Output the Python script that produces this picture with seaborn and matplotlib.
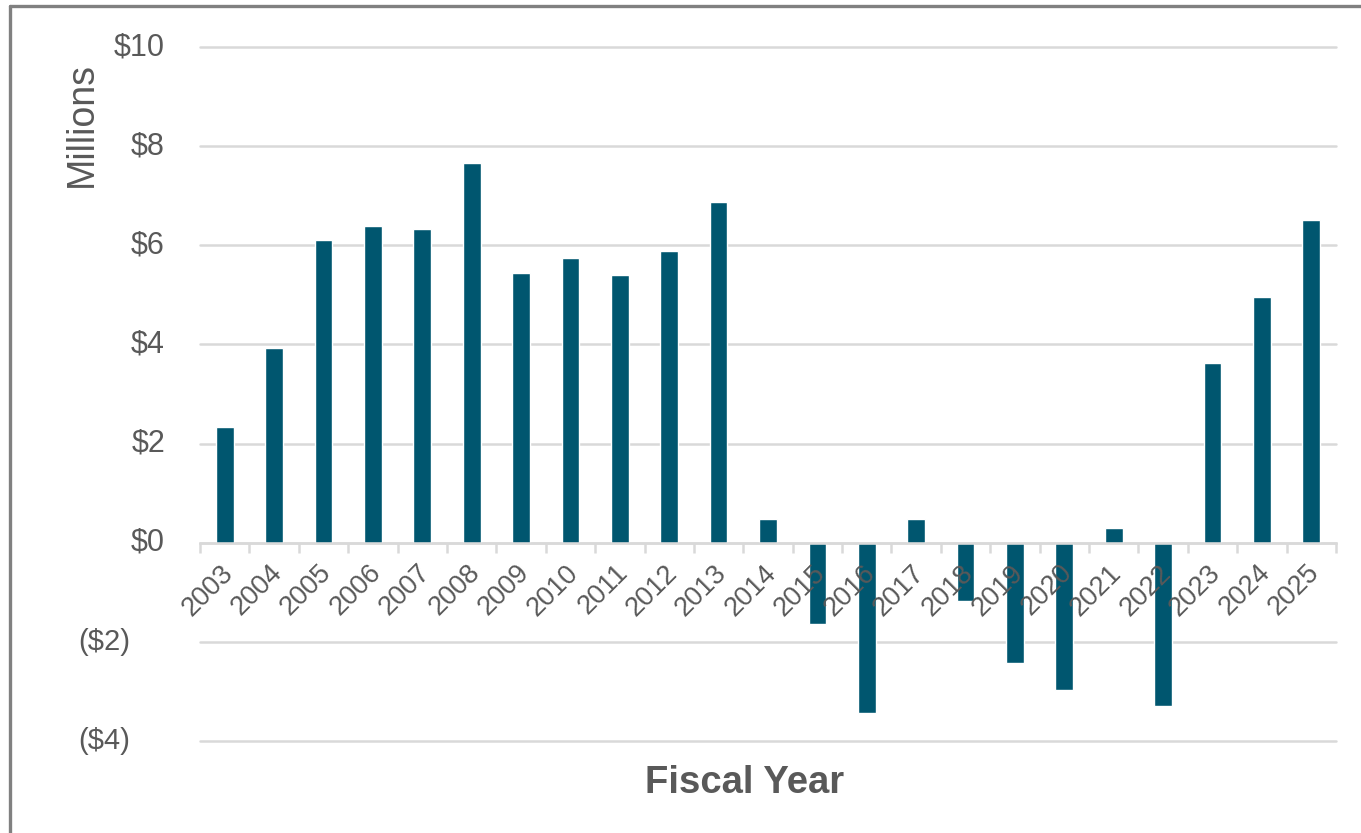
import numpy as np
import pandas as pd
import matplotlib
matplotlib.use("Agg")
import matplotlib.pyplot as plt
from matplotlib.lines import Line2D
from matplotlib.transforms import ScaledTranslation, blended_transform_factory
import seaborn as sns

# Annual net result, in millions of dollars
years = [str(y) for y in range(2003, 2026)]
values = [2.34, 3.93, 6.11, 6.39, 6.33, 7.66, 5.44, 5.75, 5.40, 5.89, 6.88,
          0.48, -1.63, -3.43, 0.48, -1.17, -2.42, -2.98, 0.30, -3.29,
          3.63, 4.96, 6.51]
y_ticks = [-4, -2, 0, 2, 4, 6, 8, 10]

BAR = "#00566f"
GRID = "#d9d9d9"
TEXT = "#595959"

sns.set_theme(style="white")
plt.rcParams["font.family"] = ["Liberation Sans", "DejaVu Sans"]

fig = plt.figure(figsize=(13.61, 8.33), dpi=100)
W, H = 1361, 833
ax = fig.add_axes([200 / W, 1 - 741 / H, 1136 / W, 694 / H])

df = pd.DataFrame({"year": years, "value": values})
sns.barplot(data=df, x="year", y="value", color=BAR, width=0.36,
            saturation=1, ax=ax, zorder=2)

ax.set_xlim(-0.5, len(years) - 0.5)
ax.set_ylim(min(y_ticks), max(y_ticks))
ax.set_xlabel("")
ax.set_ylabel("")

# Horizontal gridlines
ax.set_yticks(y_ticks)
ax.yaxis.grid(True, color=GRID, linewidth=1.8)
ax.set_axisbelow(True)
ax.tick_params(axis="y", length=0, labelleft=False)
for gl in ax.get_ygridlines():
    gl.set_clip_on(False)

for side in ("top", "right", "left"):
    ax.spines[side].set_visible(False)

# Category axis sits on the zero line, with ticks between categories
ax.spines["bottom"].set_position(("data", 0))
ax.spines["bottom"].set_color(GRID)
ax.spines["bottom"].set_linewidth(1.8)
ax.set_xticks(np.arange(len(years)))
ax.set_xticks(np.arange(-0.5, len(years), 1.0), minor=True)
ax.tick_params(axis="x", which="major", length=0, labelbottom=False)
ax.tick_params(axis="x", which="minor", bottom=True, length=7, width=1.8,
               color=GRID, direction="out")

# Value labels on the y axis
def money(v):
    return f"(${abs(v):g})" if v < 0 else f"${v:g}"

ytrans = blended_transform_factory(ax.transAxes, ax.transData)
for v in y_ticks:
    dx = -0.70 if v < 0 else -0.35
    off = ScaledTranslation(dx, 0, fig.dpi_scale_trans)
    ax.text(0, v, money(v), transform=ytrans + off, ha="right", va="center",
            fontsize=22 if v >= 0 else 21, color=TEXT)

# Year labels, rotated, hanging from the zero line
for i, yr in enumerate(years):
    off = ScaledTranslation(-0.05, -0.17, fig.dpi_scale_trans)
    ax.text(i, 0, yr, transform=ax.transData + off, rotation=45,
            rotation_mode="anchor", ha="right", va="top",
            fontsize=19.5, color=TEXT, zorder=5)

ax.text(-0.104, 0.889, "Millions", transform=ax.transAxes, rotation=90,
        ha="center", va="center", fontsize=27, color=TEXT)
ax.text(0.479, -0.0605, "Fiscal Year", transform=ax.transAxes,
        ha="center", va="center", fontsize=27.5, fontweight="bold", color=TEXT)

# Outer frame (left and top edges)
fig.add_artist(Line2D([10 / W, 10 / W], [0, 1 - 6 / H], transform=fig.transFigure,
                      color="#808080", linewidth=2.4))
fig.add_artist(Line2D([10 / W, 1], [1 - 6 / H, 1 - 6 / H], transform=fig.transFigure,
                      color="#808080", linewidth=2.4))

fig.savefig("out.png", dpi=100, facecolor="white")
